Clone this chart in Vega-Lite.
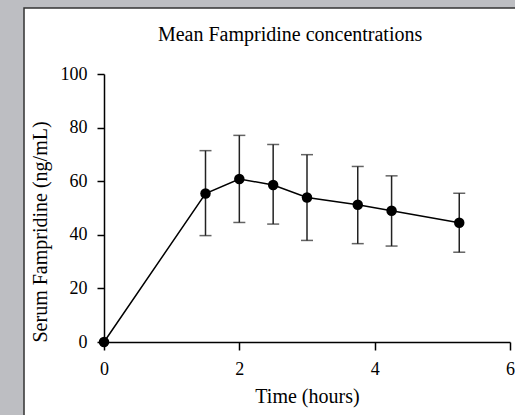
{
  "$schema": "https://vega.github.io/schema/vega-lite/v6.json",
  "autosize": "none",
  "width": 406,
  "height": 268,
  "padding": {"left": 104, "top": 74, "right": 5, "bottom": 73},
  "background": "#bdbec2",
  "config": {
    "font": "Liberation Serif",
    "view": {"stroke": null},
    "axis": {
      "labelFont": "Liberation Serif",
      "titleFont": "Liberation Serif",
      "labelFontSize": 18,
      "titleFontSize": 20,
      "titleFontWeight": "normal",
      "labelColor": "#000000",
      "titleColor": "#000000",
      "domainColor": "#000000",
      "tickColor": "#000000",
      "domainWidth": 1.5,
      "tickWidth": 1.5,
      "tickSize": 7,
      "grid": false
    }
  },
  "data": {
    "values": [
      {"time": 0, "mean": 0, "lo": null, "hi": null},
      {"time": 1.5, "mean": 55.4, "lo": 39.7, "hi": 71.4},
      {"time": 2, "mean": 60.8, "lo": 44.6, "hi": 77.1},
      {"time": 2.5, "mean": 58.6, "lo": 44.0, "hi": 73.7},
      {"time": 3, "mean": 53.9, "lo": 37.9, "hi": 69.9},
      {"time": 3.75, "mean": 51.2, "lo": 36.7, "hi": 65.5},
      {"time": 4.25, "mean": 49.0, "lo": 35.8, "hi": 62.0},
      {"time": 5.25, "mean": 44.5, "lo": 33.5, "hi": 55.5}
    ]
  },
  "layer": [
    {
      "data": {"values": [{"panel": "frame"}]},
      "mark": {"type": "rect", "fill": "#ffffff", "stroke": "#333333", "strokeWidth": 1.5, "clip": false},
      "encoding": {
        "x": {"datum": -1.182, "type": "quantitative", "scale": {"domain": [0, 6], "nice": false, "zero": false},
          "axis": {"title": "Time (hours)", "values": [0, 2, 4, 6], "format": "d", "labelFlush": false, "labelFont": "Liberation Serif", "tickSize": 8, "labelPadding": 10, "titlePadding": 8, "zindex": 1}},
        "x2": {"datum": 7.5},
        "y": {"datum": 124.6, "type": "quantitative", "scale": {"domain": [0, 100], "nice": false, "zero": false},
          "axis": {"title": "Serum Fampridine (ng/mL)", "values": [0, 20, 40, 60, 80, 100], "format": "d", "labelFlush": false, "labelFont": "Liberation Serif", "labelPadding": 10, "titlePadding": 10, "titleAnchor": "start", "zindex": 1}},
        "y2": {"datum": -45}
      }
    },
    {
      "data": {"values": [{"label": "Mean Fampridine concentrations"}]},
      "mark": {"type": "text", "font": "Liberation Serif", "fontSize": 20, "fontWeight": "normal", "color": "#000000", "align": "center", "baseline": "alphabetic", "clip": false},
      "encoding": {
        "x": {"datum": 2.75, "type": "quantitative"},
        "y": {"datum": 112.5, "type": "quantitative"},
        "text": {"field": "label"}
      }
    },
    {
      "transform": [{"filter": "datum.lo != null"}],
      "mark": {"type": "rule", "color": "#222222", "strokeWidth": 1.5},
      "encoding": {
        "x": {"field": "time", "type": "quantitative"},
        "y": {"field": "lo", "type": "quantitative"},
        "y2": {"field": "hi"}
      }
    },
    {
      "transform": [{"filter": "datum.lo != null"}],
      "mark": {"type": "tick", "orient": "horizontal", "color": "#222222", "size": 12, "thickness": 1.5},
      "encoding": {
        "x": {"field": "time", "type": "quantitative"},
        "y": {"field": "hi", "type": "quantitative"}
      }
    },
    {
      "transform": [{"filter": "datum.lo != null"}],
      "mark": {"type": "tick", "orient": "horizontal", "color": "#222222", "size": 12, "thickness": 1.5},
      "encoding": {
        "x": {"field": "time", "type": "quantitative"},
        "y": {"field": "lo", "type": "quantitative"}
      }
    },
    {
      "mark": {"type": "line", "color": "#000000", "strokeWidth": 1.5, "clip": false},
      "encoding": {
        "x": {"field": "time", "type": "quantitative"},
        "y": {"field": "mean", "type": "quantitative"}
      }
    },
    {
      "mark": {"type": "point", "filled": true, "color": "#000000", "opacity": 1, "size": 110, "clip": false},
      "encoding": {
        "x": {"field": "time", "type": "quantitative"},
        "y": {"field": "mean", "type": "quantitative"}
      }
    }
  ]
}
